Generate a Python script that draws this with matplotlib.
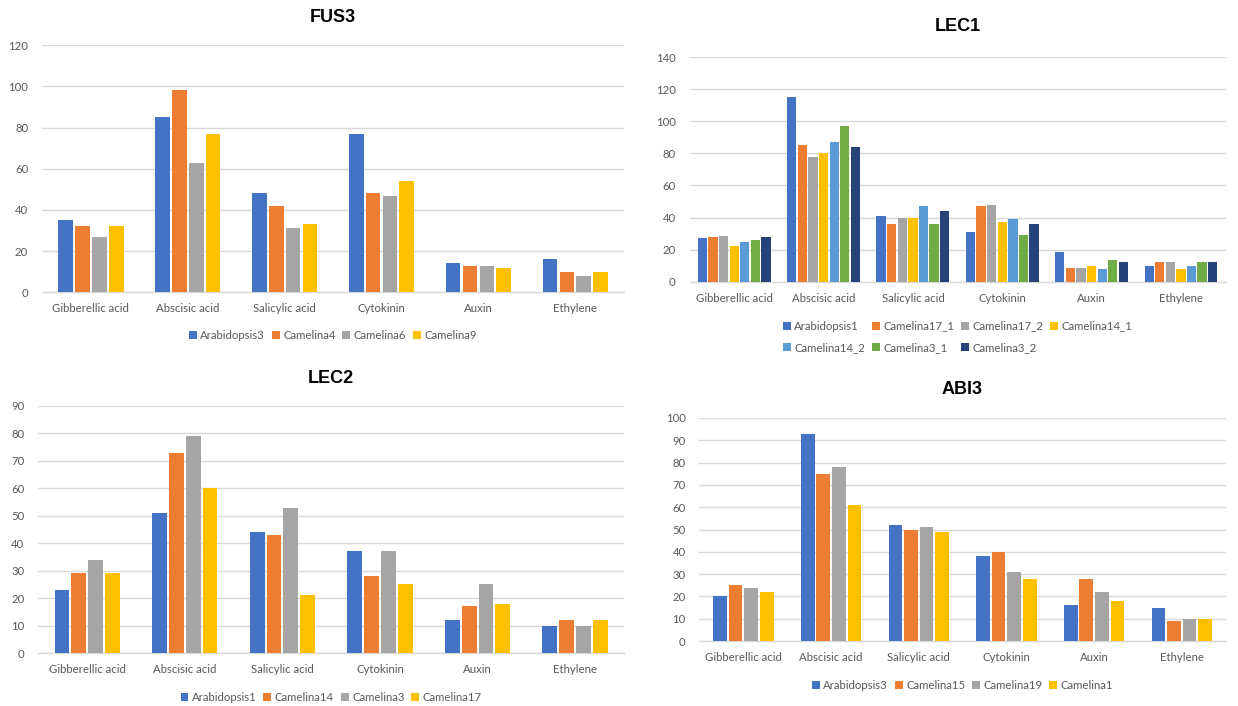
import numpy as np
import matplotlib.pyplot as plt

# Hormone categories shared by every panel
hormones = ['Gibberellic acid', 'Abscisic acid', 'Salicylic acid',
            'Cytokinin', 'Auxin', 'Ethylene']

# FUS3
fus3_lines = ['Arabidopsis3', 'Camelina4', 'Camelina6', 'Camelina9']
fus3_arabidopsis3 = [35, 85, 48, 77, 14, 16]
fus3_camelina4 = [32, 98, 42, 48, 13, 10]
fus3_camelina6 = [27, 63, 31, 47, 13, 8]
fus3_camelina9 = [32, 77, 33, 54, 12, 10]

# LEC1
lec1_lines = ['Arabidopsis1', 'Camelina17_1', 'Camelina17_2', 'Camelina14_1',
              'Camelina14_2', 'Camelina3_1', 'Camelina3_2']
lec1_arabidopsis1 = [27, 115, 41, 31, 18.5, 10]
lec1_camelina17_1 = [28, 85, 36, 47, 8.5, 12]
lec1_camelina17_2 = [28.5, 78, 39.5, 48, 8.5, 12.5]
lec1_camelina14_1 = [22, 80, 39.5, 37, 9.5, 8]
lec1_camelina14_2 = [24.5, 87, 47.5, 39, 8, 9.5]
lec1_camelina3_1 = [26, 97, 36, 29, 13.5, 12]
lec1_camelina3_2 = [28, 84, 44, 36, 12.5, 12]

# LEC2
lec2_lines = ['Arabidopsis1', 'Camelina14', 'Camelina3', 'Camelina17']
lec2_arabidopsis1 = [23, 51, 44, 37, 12, 10]
lec2_camelina14 = [29, 73, 43, 28, 17, 12]
lec2_camelina3 = [34, 79, 53, 37, 25, 10]
lec2_camelina17 = [29, 60, 21, 25, 18, 12]

# ABI3
abi3_lines = ['Arabidopsis3', 'Camelina15', 'Camelina19', 'Camelina1']
abi3_arabidopsis3 = [20, 93, 52, 38, 16, 15]
abi3_camelina15 = [25, 75, 50, 40, 28, 9]
abi3_camelina19 = [24, 78, 51, 31, 22, 10]
abi3_camelina1 = [22, 61, 49, 28, 18, 10]

# Office palette
colors = ['#4472C4', '#ED7D31', '#A5A5A5', '#FFC000',
          '#5B9BD5', '#70AD47', '#264478']
text_gray = '#595959'
grid_gray = '#D9D9D9'

plt.rcParams['font.family'] = ['Lato', 'DejaVu Sans']

fig = plt.figure(figsize=(12.38, 7.06), dpi=100)


def draw_panel(rect, title, names, series, ymax, step, group_frac, legend_y, title_y):
    ax = fig.add_axes(rect)
    x = np.arange(len(hormones))
    n = len(series)
    slot = group_frac / n
    for i, vals in enumerate(series):
        ax.bar(x - group_frac / 2 + slot * (i + 0.5), vals, width=slot * 0.88,
               color=colors[i], label=names[i], zorder=3)
    ax.set_xlim(-0.5, len(hormones) - 0.5)
    ax.set_ylim(0, ymax)
    ax.set_yticks(np.arange(0, ymax + 1, step))
    ax.grid(axis='y', color=grid_gray, linewidth=1, zorder=0)
    ax.set_xticks(x)
    ax.set_xticklabels(hormones)
    ax.tick_params(length=0, labelsize=8.2, colors=text_gray)
    ax.tick_params(axis='x', pad=8)
    ax.tick_params(axis='y', pad=10)
    for side in ['top', 'right', 'left']:
        ax.spines[side].set_visible(False)
    ax.spines['bottom'].set_color(grid_gray)
    ax.spines['bottom'].set_linewidth(1)
    ax.set_title(title, fontsize=13, fontweight='bold',
                 family='Liberation Sans', y=title_y)

    handles, labels = ax.get_legend_handles_labels()
    ncol = 4
    # matplotlib fills legend columns first; reorder so entries run along rows
    if n > ncol:
        order = []
        for c in range(ncol):
            for r in range(int(np.ceil(n / ncol))):
                k = r * ncol + c
                if k < n:
                    order.append(k)
        handles = [handles[k] for k in order]
        labels = [labels[k] for k in order]
    leg = ax.legend(handles, labels, loc='center', bbox_to_anchor=(0.5, legend_y),
                    ncol=ncol, frameon=False, fontsize=8.2, handlelength=0.7,
                    handleheight=0.7, handletextpad=0.3, columnspacing=0.6,
                    labelspacing=0.9)
    for t in leg.get_texts():
        t.set_color(text_gray)
    return ax


draw_panel([0.034, 0.586, 0.470, 0.350], 'FUS3', fus3_lines,
           [fus3_arabidopsis3, fus3_camelina4, fus3_camelina6, fus3_camelina9],
           120, 20, 0.70, -0.175, 1.06)

draw_panel([0.557, 0.601, 0.433, 0.318], 'LEC1', lec1_lines,
           [lec1_arabidopsis1, lec1_camelina17_1, lec1_camelina17_2, lec1_camelina14_1,
            lec1_camelina14_2, lec1_camelina3_1, lec1_camelina3_2],
           140, 20, 0.83, -0.245, 1.08)

draw_panel([0.031, 0.075, 0.473, 0.350], 'LEC2', lec2_lines,
           [lec2_arabidopsis1, lec2_camelina14, lec2_camelina3, lec2_camelina17],
           90, 10, 0.69, -0.18, 1.06)

draw_panel([0.565, 0.092, 0.425, 0.316], 'ABI3', abi3_lines,
           [abi3_arabidopsis3, abi3_camelina15, abi3_camelina19, abi3_camelina1],
           100, 10, 0.71, -0.2, 1.07)

fig.savefig('out.png', dpi=100)
